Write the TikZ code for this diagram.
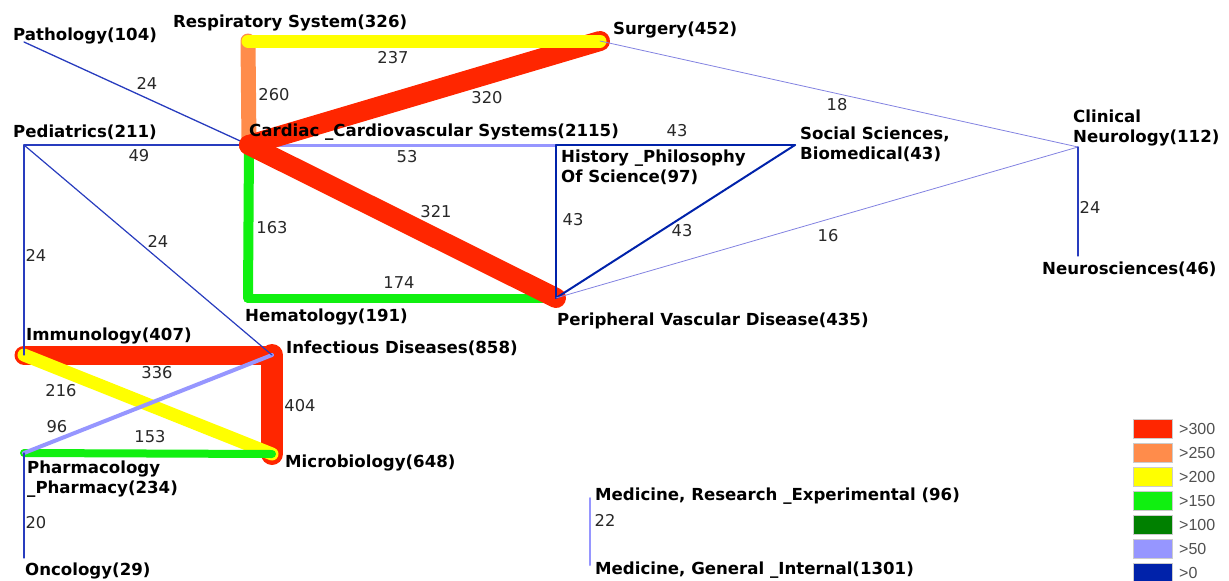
\documentclass[tikz,border=0pt]{standalone}
\usepackage{fontspec}
\setmainfont{DejaVu Sans}
\newfontfamily\legfont{Liberation Sans}
\definecolor{wred}{RGB}{255,38,0}
\definecolor{worange}{RGB}{255,140,75}
\definecolor{wyellow}{RGB}{255,255,0}
\definecolor{wgreen}{RGB}{16,240,16}
\definecolor{wdkgreen}{RGB}{0,128,0}
\definecolor{wltblue}{RGB}{150,150,255}
\definecolor{wdkblue}{RGB}{0,34,170}
\definecolor{wthin}{RGB}{40,60,190}
\definecolor{wfaint}{RGB}{130,130,225}
\definecolor{numcol}{RGB}{40,40,40}
\definecolor{legtext}{RGB}{80,80,80}
\tikzset{
  vtx/.style={coordinate},
  lab/.style={font=\fontsize{16.6}{20.5}\selectfont\bfseries, inner sep=0pt, anchor=north west, align=left, text=black},
  num/.style={font=\fontsize{16.3}{19}\selectfont, inner sep=0pt, text=numcol},
  edge/.style={line cap=round, line join=round},
  legbox/.style={draw=black!20, line width=0.6pt, minimum width=39pt, minimum height=19pt, inner sep=0pt, anchor=north west},
  legtxt/.style={font=\legfont\fontsize{16}{19}\selectfont, text=legtext, inner sep=0pt, anchor=west}
}
\begin{document}
\begin{tikzpicture}[x=1pt,y=-1pt]
\useasboundingbox (0,0) rectangle (1229,581);
% vertices
\node[vtx] (vPath) at (24,42) {};
\node[vtx] (vResp) at (248,41) {};
\node[vtx] (vSurg) at (600,41) {};
\node[vtx] (vCard) at (249,145) {};
\node[vtx] (vPed) at (24,145) {};
\node[vtx] (vHist) at (556,145) {};
\node[vtx] (vSoc) at (795,145) {};
\node[vtx] (vCN) at (1078,147) {};
\node[vtx] (vNeu) at (1078,256) {};
\node[vtx] (vPVD) at (556,298) {};
\node[vtx] (vHem) at (248,298) {};
\node[vtx] (vImm) at (24,355) {};
\node[vtx] (vInf) at (272,355) {};
\node[vtx] (vMic) at (272,454) {};
\node[vtx] (vPha) at (24,453) {};
\node[vtx] (vOnc) at (24,558) {};
\node[vtx] (vMR) at (590,498) {};
\node[vtx] (vMG) at (590,565) {};
% thin edges under thick ones
\draw[edge, wltblue, line width=3pt] (vCard) -- (vHist);
\draw[edge, wthin, line width=1.3pt] (vPath) -- (vCard);
\draw[edge, wthin, line width=1.8pt] (vPed) -- (vCard);
% upper cluster
\draw[edge, worange, line width=15pt] (vResp) -- (vCard);
\draw[edge, wgreen, line width=10pt] (vCard) -- (vHem);
\draw[edge, wgreen, line width=9pt] (vHem) -- (vPVD);
\draw[edge, wred, line width=20pt] (vCard) -- (vSurg);
\draw[edge, wred, line width=20pt] (vCard) -- (vPVD);
\draw[edge, wyellow, line width=13pt] (vResp) -- (vSurg);
% lower cluster
\draw[edge, wred, line width=19pt] (vImm) -- (vInf);
\draw[edge, wred, line width=22pt] (vInf) -- (vMic);
\draw[edge, wyellow, line width=13pt] (vImm) -- (vMic);
\draw[edge, wgreen, line width=8pt] (vPha) -- (vMic);
\draw[edge, wltblue, line width=4pt] (vInf) -- (vPha);
\draw[edge, wltblue, line width=2pt] (vMR) -- (vMG);
% thin blue edges
\draw[edge, wthin, line width=1.2pt] (vPed) -- (vImm);
\draw[edge, wthin, line width=1.2pt] (vPed) -- (vInf);
\draw[edge, wthin, line width=1.2pt] (vPha) -- (vOnc);
\draw[edge, wdkblue, line width=2pt] (vHist) -- (vSoc);
\draw[edge, wdkblue, line width=2pt] (vHist) -- (vPVD);
\draw[edge, wdkblue, line width=2pt] (vSoc) -- (vPVD);
\draw[edge, wfaint, line width=0.8pt] (vSurg) -- (vCN);
\draw[edge, wfaint, line width=0.8pt] (vPVD) -- (vCN);
\draw[edge, wthin, line width=1.3pt] (vCN) -- (vNeu);
% vertex labels
\node[lab] (lPath) at (13,27.5) {Pathology(104)};
\node[lab] (lResp) at (173,14.5) {Respiratory System(326)};
\node[lab] (lSurg) at (613,21.5) {Surgery(452)};
\node[lab] (lPed) at (13,124.5) {Pediatrics(211)};
\node[lab] (lCard) at (249,123.5) {Cardiac \_Cardiovascular Systems(2115)};
\node[lab] (lHist) at (561,149.5) {History \_Philosophy\\Of Science(97)};
\node[lab] (lSoc) at (800,126.5) {Social Sciences,\\Biomedical(43)};
\node[lab] (lCN) at (1073,109.5) {Clinical\\Neurology(112)};
\node[lab] (lNeu) at (1042,261.5) {Neurosciences(46)};
\node[lab] (lPVD) at (557,312.5) {Peripheral Vascular Disease(435)};
\node[lab] (lHem) at (245,308.5) {Hematology(191)};
\node[lab] (lImm) at (26,327.5) {Immunology(407)};
\node[lab] (lInf) at (286,340.5) {Infectious Diseases(858)};
\node[lab] (lMic) at (285,454.5) {Microbiology(648)};
\node[lab] (lPha) at (27,460.5) {Pharmacology\\\_Pharmacy(234)};
\node[lab] (lOnc) at (25,562.5) {Oncology(29)};
\node[lab] (lMR) at (595,487.5) {Medicine, Research \_Experimental (96)};
\node[lab] (lMG) at (595,561.5) {Medicine, General \_Internal(1301)};
% edge weights
\node[num] (w1) at (147,83) {24};
\node[num] (w2) at (274,95) {260};
\node[num] (w3) at (139,156) {49};
\node[num] (w4) at (393,58) {237};
\node[num] (w5) at (487,98) {320};
\node[num] (w6) at (677,131) {43};
\node[num] (w7) at (407,157) {53};
\node[num] (w8) at (837,105) {18};
\node[num] (w9) at (1090,207) {24};
\node[num] (w10) at (828,236) {16};
\node[num] (w11) at (573,220) {43};
\node[num] (w12) at (682,231) {43};
\node[num] (w13) at (436,212) {321};
\node[num] (w14) at (272,228) {163};
\node[num] (w15) at (399,283) {174};
\node[num] (w16) at (158,241) {24};
\node[num] (w17) at (36,255) {24};
\node[num] (w18) at (157,373) {336};
\node[num] (w19) at (61,391) {216};
\node[num] (w20) at (300,406) {404};
\node[num] (w21) at (57,427) {96};
\node[num] (w22) at (150,437) {153};
\node[num] (w23) at (36,523) {20};
\node[num] (w24) at (605,520) {22};
% legend
\node[legbox, fill=wred] (k1) at (1133,419) {};
\node[legbox, fill=worange] (k2) at (1133,443) {};
\node[legbox, fill=wyellow] (k3) at (1133,467) {};
\node[legbox, fill=wgreen] (k4) at (1133,491) {};
\node[legbox, fill=wdkgreen] (k5) at (1133,515) {};
\node[legbox, fill=wltblue] (k6) at (1133,539) {};
\node[legbox, fill=wdkblue] (k7) at (1133,563) {};
\node[legtxt] (t1) at (1179,428.5) {>300};
\node[legtxt] (t2) at (1179,452.5) {>250};
\node[legtxt] (t3) at (1179,476.5) {>200};
\node[legtxt] (t4) at (1179,500.5) {>150};
\node[legtxt] (t5) at (1179,524.5) {>100};
\node[legtxt] (t6) at (1179,548.5) {>50};
\node[legtxt] (t7) at (1179,572.5) {>0};
\end{tikzpicture}
\end{document}
